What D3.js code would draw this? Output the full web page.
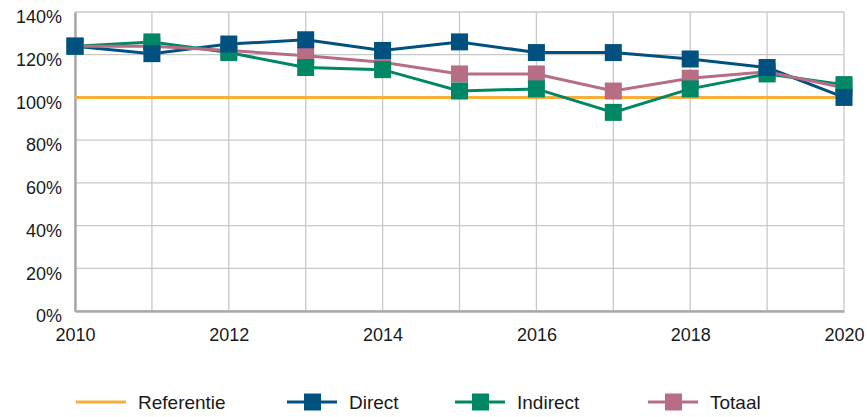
<!DOCTYPE html>
<html>
<head>
<meta charset="utf-8">
<script src="https://cdn.jsdelivr.net/npm/d3@7"></script>
<style>
  body { margin: 0; background: #fff; }
  text { font-family: "Liberation Sans", Arial, sans-serif; fill: #1a1a1a; }
</style>
</head>
<body>
<div id="chart"></div>
<script>
// data
var years = [2010, 2011, 2012, 2013, 2014, 2015, 2016, 2017, 2018, 2019, 2020];
var direct   = [124, 120.5, 125, 127, 122, 126, 121, 121, 118, 114, 100];
var indirect = [124, 126, 121, 114, 113, 103, 104, 93, 104, 111, 106];
var totaal   = [124, 124, 122, 119.5, 116.5, 111, 111, 103, 109, 112, 104.5];
var referentie = 100;
var yTicks = [0, 20, 40, 60, 80, 100, 120, 140];
var xTicks = [2010, 2012, 2014, 2016, 2018, 2020];

var series = [
  {name: "Direct", values: direct, color: "#00517f"},
  {name: "Indirect", values: indirect, color: "#008766"},
  {name: "Totaal", values: totaal, color: "#b76e85"}
];

var margin = {top: 12, right: 23, bottom: 106, left: 75},
    width = 867 - margin.left - margin.right,
    height = 417 - margin.top - margin.bottom;

var svg = d3.select("#chart")
  .append("svg")
    .attr("width", 867)
    .attr("height", 417)
  .append("g")
    .attr("transform", "translate(" + margin.left + "," + margin.top + ")");

var x = d3.scaleLinear().domain([2010, 2020]).range([0, width]);
var y = d3.scaleLinear().domain([0, 140]).range([height, 0]);

// grid
svg.append("g")
  .selectAll("line.vgrid")
  .data(years)
  .enter().append("line")
    .attr("x1", function(d) { return x(d); })
    .attr("x2", function(d) { return x(d); })
    .attr("y1", 0)
    .attr("y2", height)
    .attr("stroke", "#c8c8c8")
    .attr("stroke-width", 1.3);

svg.append("g")
  .selectAll("line.hgrid")
  .data(yTicks)
  .enter().append("line")
    .attr("x1", 0)
    .attr("x2", width)
    .attr("y1", function(d) { return y(d); })
    .attr("y2", function(d) { return y(d); })
    .attr("stroke", "#c8c8c8")
    .attr("stroke-width", 1.3);

// axes
var yAxis = svg.append("g")
  .call(d3.axisLeft(y).tickValues(yTicks).tickSize(0).tickPadding(13)
    .tickFormat(function(d) { return d + "%"; }));
yAxis.select(".domain").attr("stroke", "#a8a8a8").attr("stroke-width", 2.5);
yAxis.selectAll("text").style("font-size", "18px").attr("fill", "#1a1a1a")
  .attr("y", 5);

var xAxis = svg.append("g")
  .attr("transform", "translate(0," + height + ")")
  .call(d3.axisBottom(x).tickValues(xTicks).tickSize(0).tickPadding(17)
    .tickFormat(d3.format("d")));
xAxis.select(".domain").attr("stroke", "#a8a8a8").attr("stroke-width", 2.5);
xAxis.selectAll("text").style("font-size", "18px").attr("fill", "#1a1a1a");

// reference line
svg.append("line")
  .attr("x1", 0)
  .attr("x2", width)
  .attr("y1", y(referentie))
  .attr("y2", y(referentie))
  .attr("stroke", "#f7ae3d")
  .attr("stroke-width", 3);

var line = d3.line()
  .x(function(d, i) { return x(years[i]); })
  .y(function(d) { return y(d); });

var sq = 17;
series.forEach(function(s) {
  svg.append("path")
    .datum(s.values)
    .attr("fill", "none")
    .attr("stroke", s.color)
    .attr("stroke-width", 3)
    .attr("d", line);
});
// markers drawn after lines, totaal behind so direct stays on top like the reference
[series[2], series[1], series[0]].forEach(function(s) {
  svg.append("g").selectAll("rect")
    .data(s.values)
    .enter().append("rect")
      .attr("x", function(d, i) { return x(years[i]) - sq / 2; })
      .attr("y", function(d) { return y(d) - sq / 2; })
      .attr("width", sq)
      .attr("height", sq)
      .attr("fill", s.color);
});

// legend
var legend = [
  {name: "Referentie", color: "#f7ae3d", marker: false, x: 76},
  {name: "Direct", color: "#00517f", marker: true, x: 287},
  {name: "Indirect", color: "#008766", marker: true, x: 455},
  {name: "Totaal", color: "#b76e85", marker: true, x: 648}
];
var lg = d3.select("svg").append("g");
legend.forEach(function(l) {
  var g = lg.append("g").attr("transform", "translate(" + l.x + ",402)");
  g.append("line").attr("x1", 0).attr("x2", 50)
    .attr("stroke", l.color).attr("stroke-width", 3);
  if (l.marker) {
    g.append("rect").attr("x", 17).attr("y", -8.5).attr("width", 17).attr("height", 17)
      .attr("fill", l.color);
  }
  g.append("text").attr("x", 62).attr("y", 0).attr("dy", "0.35em")
    .style("font-size", "19px").text(l.name);
});
</script>
</body>
</html>
